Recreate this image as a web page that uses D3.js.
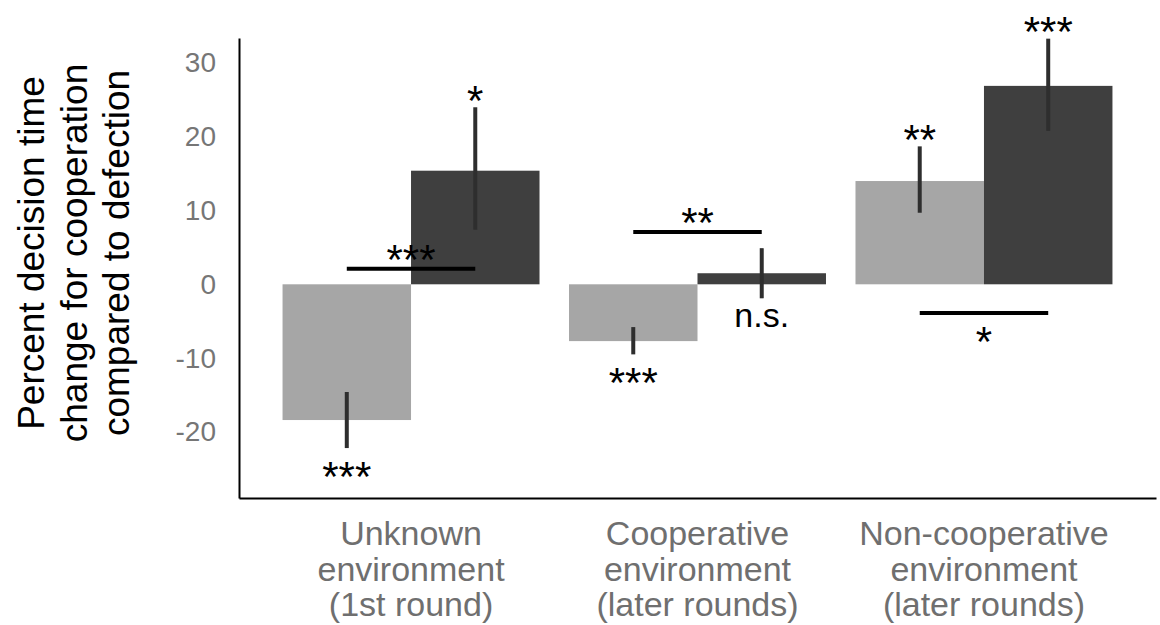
<!DOCTYPE html>
<meta charset="utf-8">
<body style="margin:0;background:#fff">
<script src="https://cdnjs.cloudflare.com/ajax/libs/d3/7.8.5/d3.min.js"></script>
<style type="text/css">
  text { font-family: "Liberation Sans", Arial, sans-serif; }
  .tick-label { font-size: 28px; fill: #767676; }
  .cat-label { font-size: 34px; fill: #6f6f6f; }
  .title { font-size: 37px; fill: #000; }
  .sig { font-size: 42px; fill: #000; }
  .ns { font-size: 34px; fill: #000; }
</style>
<script>
var width = 1160;
var height = 625;

// data
var categories = ["Unknown environment (1st round)", "Cooperative environment (later rounds)", "Non-cooperative environment (later rounds)"];
var categoryLines = [["Unknown", "environment", "(1st round)"],
                     ["Cooperative", "environment", "(later rounds)"],
                     ["Non-cooperative", "environment", "(later rounds)"]];
var series = ["light", "dark"];
var lightValues = [-18.4, -7.7, 14.0];
var lightErrLow = [-22.2, -9.5, 9.7];
var lightErrHigh = [-14.6, -5.8, 18.7];
var darkValues = [15.4, 1.5, 26.9];
var darkErrLow = [7.4, -1.9, 20.8];
var darkErrHigh = [24.0, 4.9, 33.3];
var lightSig = ["***", "***", "**"];
var darkSig = ["*", "n.s.", "***"];
var bracketValues = [2.1, 7.1, -3.9];
var bracketSig = ["***", "**", "*"];
var bracketSide = ["above", "above", "below"];
var yTicks = [-20, -10, 0, 10, 20, 30];
var titleLines = ["Percent decision time", "change for cooperation", "compared to defection"];

var colors = { light: "#a6a6a6", dark: "#3f3f3f" };

var svg = d3.select("body")
            .append("svg")
            .attr("width", width)
            .attr("height", height);

var x = d3.scaleBand()
          .domain(categories)
          .range([239, 1156])
          .paddingInner(0.103)
          .paddingOuter(0.152);

var xSub = d3.scaleBand()
             .domain(series)
             .range([0, x.bandwidth()]);

var y = d3.scaleLinear()
          .domain([-28.97, 33.39])
          .range([498, 38]);

// y axis (plain hyphen for negatives, like the original)
var yAxis = svg.append("g")
    .attr("transform", "translate(239,0)")
    .call(d3.axisLeft(y).tickValues(yTicks).tickSize(0).tickSizeOuter(0).tickPadding(23)
            .tickFormat(function(d) { return String(d); }));
yAxis.select(".domain").attr("stroke", "#000").attr("stroke-width", 2);
yAxis.selectAll("text").attr("class", "tick-label").attr("font-size", null).attr("font-family", null);

// x axis
var xAxis = svg.append("g")
    .attr("transform", "translate(0,498)")
    .call(d3.axisBottom(x).tickSize(0).tickSizeOuter(0).tickFormat(""));
xAxis.select(".domain").attr("stroke", "#000").attr("stroke-width", 2);
xAxis.selectAll(".tick text").remove();
xAxis.selectAll(".tick").each(function(d, i) {
  var t = d3.select(this).append("text")
      .attr("class", "cat-label")
      .attr("text-anchor", "middle");
  categoryLines[i].forEach(function(line, j) {
    t.append("tspan").attr("x", 0).attr("y", 47 + j * 35.7).text(line);
  });
});

// build rows
var rows = [];
categories.forEach(function(c, i) {
  rows.push({ cat: c, s: "light", v: lightValues[i], lo: lightErrLow[i], hi: lightErrHigh[i], sig: lightSig[i] });
  rows.push({ cat: c, s: "dark", v: darkValues[i], lo: darkErrLow[i], hi: darkErrHigh[i], sig: darkSig[i] });
});

function cx(d) { return x(d.cat) + xSub(d.s) + xSub.bandwidth() / 2; }

svg.append("g").selectAll("rect")
   .data(rows)
   .enter()
   .append("rect")
   .attr("x", function(d) { return x(d.cat) + xSub(d.s); })
   .attr("width", xSub.bandwidth())
   .attr("y", function(d) { return y(Math.max(0, d.v)); })
   .attr("height", function(d) { return Math.abs(y(d.v) - y(0)); })
   .attr("fill", function(d) { return colors[d.s]; });

// error bars
svg.append("g").selectAll("line")
   .data(rows)
   .enter()
   .append("line")
   .attr("x1", cx).attr("x2", cx)
   .attr("y1", function(d) { return y(d.hi); })
   .attr("y2", function(d) { return y(d.lo); })
   .attr("stroke", "#2e2e2e")
   .attr("stroke-width", 4);

// significance labels on bars
svg.append("g").selectAll("text")
   .data(rows)
   .enter()
   .append("text")
   .attr("class", function(d) { return d.sig == "n.s." ? "ns" : "sig"; })
   .attr("text-anchor", "middle")
   .attr("x", cx)
   .attr("y", function(d) {
     if (d.sig == "n.s.") return y(d.lo) + 29;
     if (d.v < 0) return y(d.lo) + 19 + 23.5;
     return y(d.hi) - 16 + 23.5;
   })
   .text(function(d) { return d.sig; });

// brackets between the two bars
var brackets = categories.map(function(c, i) {
  return { cat: c, v: bracketValues[i], sig: bracketSig[i], side: bracketSide[i] };
});
var bx1 = function(d) { return x(d.cat) + xSub("light") + xSub.bandwidth() / 2; };
var bx2 = function(d) { return x(d.cat) + xSub("dark") + xSub.bandwidth() / 2; };

svg.append("g").selectAll("line")
   .data(brackets)
   .enter()
   .append("line")
   .attr("x1", bx1).attr("x2", bx2)
   .attr("y1", function(d) { return y(d.v); })
   .attr("y2", function(d) { return y(d.v); })
   .attr("stroke", "#000")
   .attr("stroke-width", 4);

svg.append("g").selectAll("text")
   .data(brackets)
   .enter()
   .append("text")
   .attr("class", "sig")
   .attr("text-anchor", "middle")
   .attr("x", function(d) { return (bx1(d) + bx2(d)) / 2; })
   .attr("y", function(d) {
     return d.side == "above" ? y(d.v) - 18 + 23.5 : y(d.v) + 19 + 23.5;
   })
   .text(function(d) { return d.sig; });

// y title
var title = svg.append("text")
   .attr("class", "title")
   .attr("text-anchor", "middle")
   .attr("transform", "translate(0,253) rotate(-90)");
titleLines.forEach(function(line, j) {
  title.append("tspan").attr("x", 0).attr("y", 44 + j * 42.5).text(line);
});
</script>
</body>
</html>
